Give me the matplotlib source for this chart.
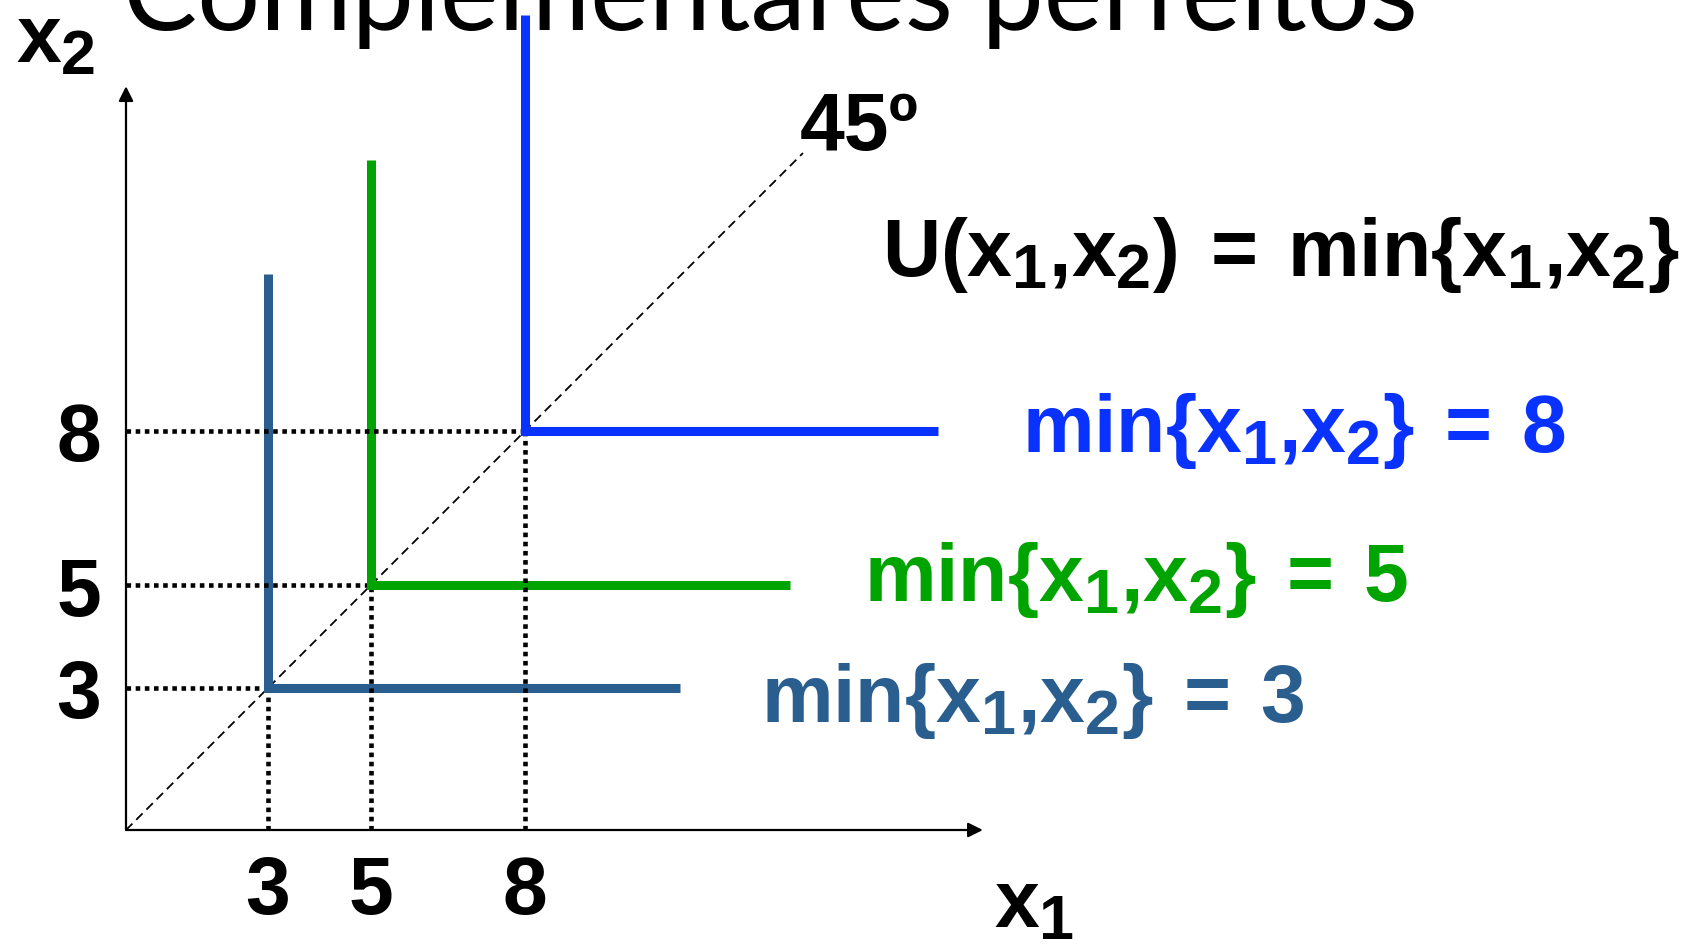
"""perfect complements indifference curves"""

import matplotlib.pyplot as plt
import matplotlib._mathtext as mathtext_internal

plt.rcParams['mathtext.fontset'] = 'custom'
plt.rcParams['mathtext.rm'] = 'Liberation Sans:bold'
plt.rcParams['mathtext.it'] = 'Liberation Sans:bold'
plt.rcParams['mathtext.bf'] = 'Liberation Sans:bold'
# slide subscripts are a bit larger than mathtext's default
mathtext_internal.SHRINK_FACTOR = 0.78

# utility levels and the extent of each L-shaped curve
levels = [3, 5, 8]
vert_tops = [11.06, 13.27, 16.10]
horiz_ends = [11.02, 13.16, 16.04]
colors = ['#2a5e8f', '#00a400', '#0a32ff']
tick_labels = ['3', '5', '8']
axis_origin = 0.24
x_axis_max = 16.91
y_axis_max = 14.71
diag_end = 13.41

# pixel layout of the slide (1691 x 946)
S = 51.4
OX, OY = 126, 830
W, H = 1691, 946


def pt(x, y):
    """pixel position -> data coords"""
    return (x - OX) / S + axis_origin, (OY - y) / S + axis_origin


fig = plt.figure(figsize=(16.91, 9.46), dpi=100)
ax = fig.add_axes([0, 0, 1, 1])
x0, y1 = pt(0, 0)
x1, y0 = pt(W, H)
ax.set_xlim(x0, x1)
ax.set_ylim(y0, y1)
ax.axis('off')

o = axis_origin
# axes with arrows
ax.annotate('', xy=(x_axis_max, o), xytext=(o, o),
            arrowprops=dict(arrowstyle='-|>', color='k', lw=1.6,
                            mutation_scale=22, shrinkA=0, shrinkB=0))
ax.annotate('', xy=(o, y_axis_max), xytext=(o, o),
            arrowprops=dict(arrowstyle='-|>', color='k', lw=1.6,
                            mutation_scale=22, shrinkA=0, shrinkB=0))

# 45 degree line
ax.plot([o, diag_end], [o, diag_end], c='k', lw=1.3, ls=(0, (5, 3)))

ytick_x = pt(79, 0)[0]
xtick_y = pt(0, 893)[1]
for lv, top, end, col, lab in zip(levels, vert_tops, horiz_ends, colors, tick_labels):
    ax.plot([o, lv], [lv, lv], c='k', lw=3.3, ls=(0, (1, 1)))
    ax.plot([lv, lv], [o, lv], c='k', lw=3.3, ls=(0, (1, 1)))
    ax.plot([lv, lv, end], [top, lv, lv], c=col, lw=6.5,
            solid_capstyle='butt', solid_joinstyle='miter')
    ax.text(ytick_x, lv - 0.18, lab, ha='center', va='center', fontsize=58,
            family='Liberation Sans', weight='bold')
    ax.text(lv, xtick_y, lab, ha='center', va='center', fontsize=58,
            family='Liberation Sans', weight='bold')

# curve labels
label_pos = [(761, 701), (864, 580), (1022, 431)]
for lv, col, (px, py) in zip(levels, colors, label_pos):
    x, y = pt(px, py)
    ax.text(x, y, r'$min\{x_1{,}x_2\}\:=\:%d$' % lv, color=col, fontsize=58,
            ha='left', va='center')

x, y = pt(882, 255)
ax.text(x, y, r'$U(x_1{,}x_2)\:=\:min\{x_1{,}x_2\}$', fontsize=58,
        ha='left', va='center')

x, y = pt(859, 129)
ax.text(x, y, '45º', fontsize=58, family='Liberation Sans', weight='bold',
        ha='center', va='center')

x, y = pt(16, 40)
ax.text(x, y, r'$x_2$', fontsize=58, ha='left', va='center')
x, y = pt(994, 905)
ax.text(x, y, r'$x_1$', fontsize=58, ha='left', va='center')

# title, cut off by the top of the slide
x, y = pt(770, 30)
ax.text(x, y, 'Complementares perfeitos', fontsize=80, family='Lato',
        ha='center', va='baseline')

fig.savefig('out.png', dpi=100)
